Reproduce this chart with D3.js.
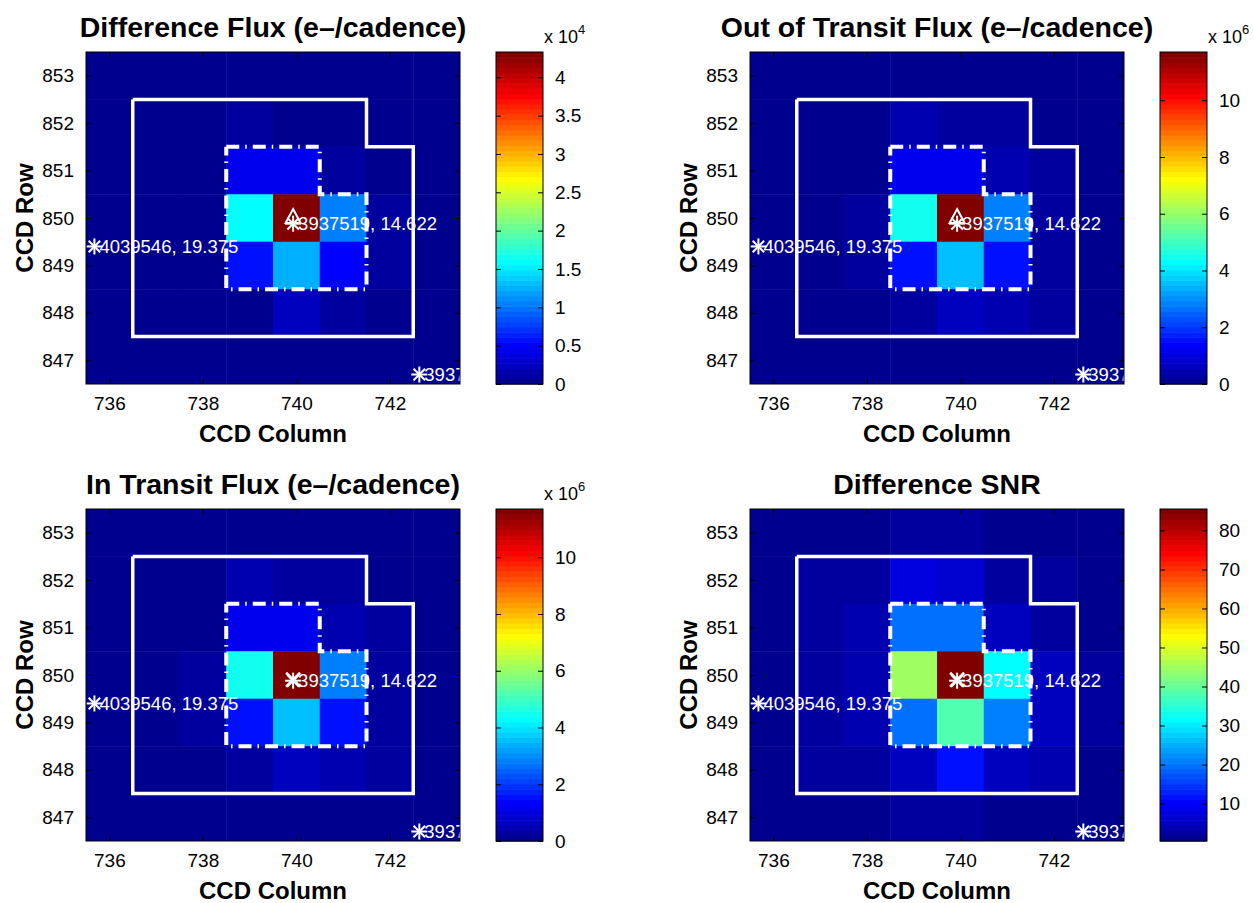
<!DOCTYPE html>
<html><head><meta charset="utf-8">
<script src="https://cdn.jsdelivr.net/npm/d3@7"></script>
<style>
body{margin:0;background:#fff;}
text{font-family:"Liberation Sans",Arial,Helvetica,sans-serif;}
</style></head>
<body><svg id="fig" width="1254" height="903"></svg>
<script>
// ---------- data ----------
const columns = [736, 737, 738, 739, 740, 741, 742, 743];
const rowsTopDown = [853, 852, 851, 850, 849, 848, 847];
const xTickValues = [736, 738, 740, 742];
const yTickValues = [847, 848, 849, 850, 851, 852, 853];

const titles = ["Difference Flux (e\u2013/cadence)", "Out of Transit Flux (e\u2013/cadence)",
                "In Transit Flux (e\u2013/cadence)", "Difference SNR"];

// Difference flux (e-/cadence)
const diffFlux = [
  [100, 100, 120, 150, 150, 120, 100, 100],
  [100, 150, 200, 1200, 500, 300, 200, 100],
  [100, 150, 250, 4700, 4700, 1000, 400, 150],
  [100, 300, 500, 15900, 43300, 10200, 900, 200],
  [100, 300, 500, 5700, 12500, 5400, 800, 200],
  [100, 200, 400, 600, 2300, 1000, 500, 150],
  [50, 100, 100, 150, 200, 150, 100, 0]
];
// Out of transit flux (e-/cadence)
const outFlux = [
  [40e3, 40e3, 50e3, 60e3, 60e3, 50e3, 40e3, 40e3],
  [40e3, 60e3, 80e3, 0.5e6, 0.3e6, 0.25e6, 80e3, 40e3],
  [40e3, 60e3, 0.12e6, 1.2e6, 1.2e6, 0.45e6, 0.25e6, 60e3],
  [40e3, 0.1e6, 0.2e6, 4.5e6, 11.7e6, 2.85e6, 0.35e6, 80e3],
  [40e3, 0.1e6, 0.2e6, 1.55e6, 3.55e6, 1.5e6, 0.35e6, 80e3],
  [40e3, 80e3, 0.12e6, 0.3e6, 0.65e6, 0.45e6, 0.25e6, 60e3],
  [30e3, 40e3, 40e3, 50e3, 60e3, 50e3, 40e3, 0]
];
// In transit flux (e-/cadence)
const inFlux = [
  [40e3, 40e3, 50e3, 60e3, 60e3, 50e3, 40e3, 40e3],
  [40e3, 60e3, 80e3, 0.5e6, 0.3e6, 0.25e6, 80e3, 40e3],
  [40e3, 60e3, 0.12e6, 1.19e6, 1.19e6, 0.45e6, 0.25e6, 60e3],
  [40e3, 0.1e6, 0.2e6, 4.48e6, 11.66e6, 2.84e6, 0.35e6, 80e3],
  [40e3, 0.1e6, 0.2e6, 1.54e6, 3.54e6, 1.49e6, 0.35e6, 80e3],
  [40e3, 80e3, 0.12e6, 0.3e6, 0.65e6, 0.45e6, 0.25e6, 60e3],
  [30e3, 40e3, 40e3, 50e3, 60e3, 50e3, 40e3, 0]
];
// Difference SNR
const diffSNR = [
  [1, 1, 1.5, 2, 2, 1.5, 1, 1],
  [1, 2, 3, 8, 7, 3, 2, 1],
  [1, 2, 4, 19.5, 20, 5, 3, 1.5],
  [1.5, 3, 4, 45, 85.5, 31.5, 5, 2],
  [1.5, 3, 4, 19.5, 38.5, 21, 5, 2],
  [1, 2, 3, 5, 12, 5, 4, 1.5],
  [1, 1, 1.5, 2, 2, 1.5, 1, 0.4]
];
const panelData = [diffFlux, outFlux, inFlux, diffSNR];

// colour limits and colourbar ticks
const colorLimits = [[0, 43300], [0, 11.7e6], [0, 11.7e6], [0.4, 85.5]];
const cbTickValues = [
  [0, 5000, 10000, 15000, 20000, 25000, 30000, 35000, 40000],
  [0, 2e6, 4e6, 6e6, 8e6, 10e6],
  [0, 2e6, 4e6, 6e6, 8e6, 10e6],
  [10, 20, 30, 40, 50, 60, 70, 80]
];
const cbTickLabels = [
  ["0", "0.5", "1", "1.5", "2", "2.5", "3", "3.5", "4"],
  ["0", "2", "4", "6", "8", "10"],
  ["0", "2", "4", "6", "8", "10"],
  ["10", "20", "30", "40", "50", "60", "70", "80"]
];
const cbExponent = ["4", "6", "6", null];

// aperture outlines (pixel-corner coordinates: [column, row])
const apertureOutline = [[736.5, 852.5], [741.5, 852.5], [741.5, 851.5], [742.5, 851.5],
                         [742.5, 847.5], [736.5, 847.5], [736.5, 852.5]];
const optimalOutline = [[738.5, 851.5], [740.5, 851.5], [740.5, 850.5], [741.5, 850.5],
                        [741.5, 848.5], [738.5, 848.5], [738.5, 851.5]];

// catalogue stars: [column, row, label]
const stars = [
  [735.68, 849.4, "4039546, 19.375"],
  [742.63, 846.7, "3937"],
  [739.93, 849.88, "3937519, 14.622"]
];
// centroid marker positions: triangle (top panels), cross (bottom panels)
const centroidTri = [739.93, 850.0];
const centroidX = [739.93, 849.9];

// ---------- drawing ----------
function jet(i) { // i in 1..64
  let r, g, b;
  if (i <= 24) r = 0; else if (i <= 40) r = (i - 24) / 16; else if (i <= 56) r = 1; else r = 1 - (i - 56) / 16;
  if (i <= 8) g = 0; else if (i <= 24) g = (i - 8) / 16; else if (i <= 40) g = 1; else if (i <= 56) g = 1 - (i - 40) / 16; else g = 0;
  if (i <= 8) b = 0.5 + i / 16; else if (i <= 24) b = 1; else if (i <= 40) b = 1 - (i - 24) / 16; else b = 0;
  return d3.rgb(r * 255, g * 255, b * 255).formatHex();
}
function colorFor(v, lim) {
  let idx = Math.floor((v - lim[0]) / (lim[1] - lim[0]) * 64) + 1;
  idx = Math.max(1, Math.min(64, idx));
  return jet(idx);
}

const svg = d3.select("#fig");
const W = 374, H = 332;
const origins = [[86, 52], [750, 52], [86, 509], [750, 509]];
const font = "'Liberation Sans',Arial,Helvetica,sans-serif";

origins.forEach((o, p) => {
  const g = svg.append("g").attr("transform", `translate(${o[0]},${o[1]})`);
  const x = d3.scaleLinear().domain([735.5, 743.5]).range([0, W]);
  const y = d3.scaleLinear().domain([846.5, 853.5]).range([H, 0]);
  const lim = colorLimits[p];
  const clipId = "clip" + p;
  g.append("clipPath").attr("id", clipId).append("rect").attr("width", W).attr("height", H);
  const plot = g.append("g").attr("clip-path", `url(#${clipId})`);

  // cells
  const cells = [];
  rowsTopDown.forEach((r, ri) => columns.forEach((c, ci) => cells.push({c, r, v: panelData[p][ri][ci]})));
  plot.selectAll("rect.cell").data(cells).join("rect")
    .attr("x", d => x(d.c - 0.5)).attr("y", d => y(d.r + 0.5))
    .attr("width", d => x(d.c + 0.5) - x(d.c - 0.5) + 0.5)
    .attr("height", d => y(d.r - 0.5) - y(d.r + 0.5) + 0.5)
    .attr("fill", d => colorFor(d.v, lim));

  // star labels
  stars.forEach(s => {
    plot.append("text").attr("x", x(s[0]) + 5).attr("y", y(s[1]) + 6.5)
      .attr("fill", "#fff").attr("font-size", 18.5).text(s[2]);
  });

  // outlines
  const line = d3.line().x(d => x(d[0])).y(d => y(d[1]));
  plot.append("path").attr("d", line(apertureOutline)).attr("fill", "none")
    .attr("stroke", "#fff").attr("stroke-width", 3.5).attr("stroke-linejoin", "miter");
  plot.append("path").attr("d", line(optimalOutline)).attr("fill", "none")
    .attr("stroke", "#fff").attr("stroke-width", 4).attr("stroke-dasharray", "13,6,1.5,6");

  // star markers
  stars.forEach(s => {
    const cx = x(s[0]), cy = y(s[1]), r = 8;
    const m = plot.append("g").attr("stroke", "#fff").attr("stroke-width", 2);
    m.append("line").attr("x1", cx - r).attr("x2", cx + r).attr("y1", cy).attr("y2", cy);
    m.append("line").attr("x1", cx).attr("x2", cx).attr("y1", cy - r).attr("y2", cy + r);
    const d = r * 0.72;
    m.append("line").attr("x1", cx - d).attr("x2", cx + d).attr("y1", cy - d).attr("y2", cy + d);
    m.append("line").attr("x1", cx - d).attr("x2", cx + d).attr("y1", cy + d).attr("y2", cy - d);
  });
  if (p < 2) {
    const cx = x(centroidTri[0]), cy = y(centroidTri[1]);
    plot.append("path").attr("d", `M${cx},${cy - 9}L${cx + 7.5},${cy + 5}L${cx - 7.5},${cy + 5}Z`)
      .attr("fill", "none").attr("stroke", "#fff").attr("stroke-width", 2);
  } else {
    const cx = x(centroidX[0]), cy = y(centroidX[1]), r = 7;
    const m = plot.append("g").attr("stroke", "#fff").attr("stroke-width", 2.5);
    m.append("line").attr("x1", cx - r).attr("x2", cx + r).attr("y1", cy - r).attr("y2", cy + r);
    m.append("line").attr("x1", cx - r).attr("x2", cx + r).attr("y1", cy + r).attr("y2", cy - r);
  }

  // axes
  const tl = 5;
  const fmt = d3.format("d");
  const xa = d3.axisBottom(x).tickValues(xTickValues).tickFormat(fmt).tickSizeInner(-tl).tickSizeOuter(0).tickPadding(13);
  const ya = d3.axisLeft(y).tickValues(yTickValues).tickFormat(fmt).tickSizeInner(-tl).tickSizeOuter(0).tickPadding(12);
  const gx = g.append("g").attr("transform", `translate(0,${H})`).call(xa);
  const gy = g.append("g").call(ya);
  g.append("g").call(d3.axisTop(x).tickValues(xTickValues).tickSizeInner(-tl).tickSizeOuter(0).tickFormat(""));
  g.append("g").attr("transform", `translate(${W},0)`).call(d3.axisRight(y).tickValues(yTickValues).tickSizeInner(-tl).tickSizeOuter(0).tickFormat(""));
  g.selectAll(".domain").remove();
  g.selectAll(".tick line").attr("stroke", "#000");
  [gx, gy].forEach(a => a.selectAll("text").attr("font-size", 19).attr("font-family", font).attr("fill", "#000"));
  g.append("rect").attr("width", W).attr("height", H).attr("fill", "none").attr("stroke", "#000").attr("stroke-width", 1);

  // labels
  g.append("text").attr("x", W / 2).attr("y", H + 58).attr("text-anchor", "middle")
    .attr("font-size", 24).attr("font-weight", "bold").text("CCD Column");
  g.append("text").attr("transform", `translate(-53,${H / 2}) rotate(-90)`).attr("text-anchor", "middle")
    .attr("font-size", 24).attr("font-weight", "bold").text("CCD Row");
  g.append("text").attr("x", W / 2).attr("y", -15).attr("text-anchor", "middle")
    .attr("font-size", 28.5).attr("font-weight", "bold").text(titles[p]);

  // colourbar
  const cbx = 410, cbw = 47;
  const cy = d3.scaleLinear().domain(lim).range([H, 0]);
  const levels = d3.range(1, 65);
  const cb = g.append("g").attr("transform", `translate(${cbx},0)`);
  cb.selectAll("rect.lv").data(levels).join("rect")
    .attr("x", 0).attr("width", cbw)
    .attr("y", i => H - H * i / 64).attr("height", H / 64 + 0.6)
    .attr("fill", i => jet(i));
  const ca = d3.axisRight(cy).tickValues(cbTickValues[p]).tickSizeInner(-tl).tickSizeOuter(0).tickPadding(12)
    .tickFormat((d, i) => cbTickLabels[p][i]);
  const gca = cb.append("g").attr("transform", `translate(${cbw},0)`).call(ca);
  cb.append("g").call(d3.axisLeft(cy).tickValues(cbTickValues[p]).tickSizeInner(-tl).tickSizeOuter(0).tickFormat(""));
  cb.selectAll(".domain").remove();
  cb.selectAll(".tick line").attr("stroke", "#000");
  gca.selectAll("text").attr("font-size", 19).attr("font-family", font).attr("fill", "#000");
  cb.append("rect").attr("width", cbw).attr("height", H).attr("fill", "none").attr("stroke", "#000");
  if (cbExponent[p]) {
    const t = cb.append("text").attr("x", cbw + 1).attr("y", -9).attr("font-size", 18);
    t.append("tspan").text("x 10");
    t.append("tspan").attr("dy", -9).attr("font-size", 13).text(cbExponent[p]);
  }
});
</script>
</body></html>
